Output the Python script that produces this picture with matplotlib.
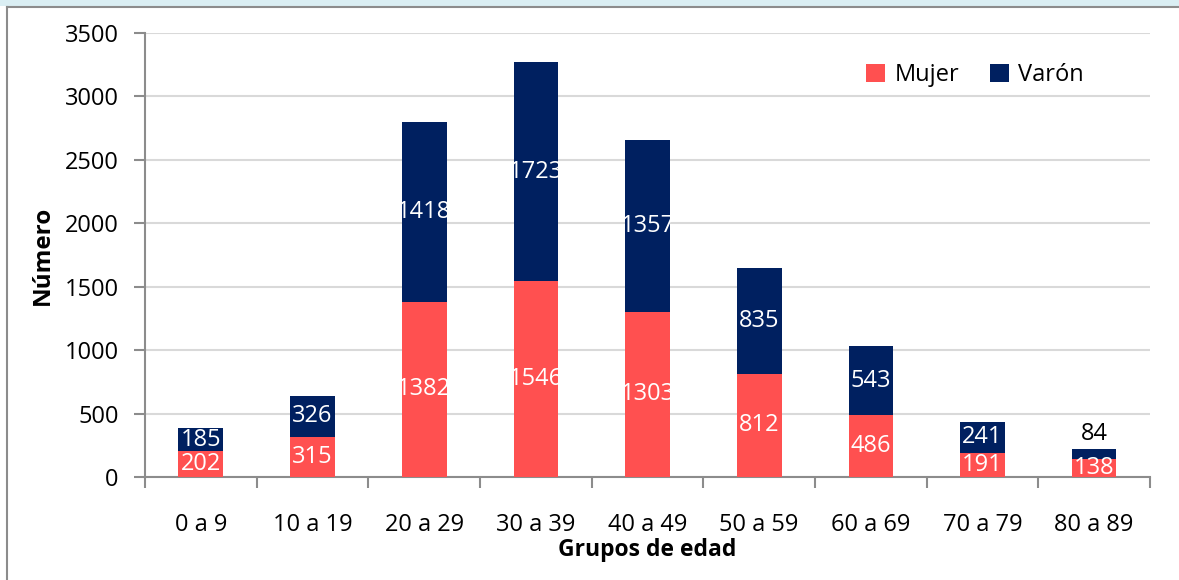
import matplotlib.pyplot as plt
import numpy as np
from matplotlib.patches import Rectangle
from matplotlib.lines import Line2D

# Data
grupos = ['0 a 9', '10 a 19', '20 a 29', '30 a 39', '40 a 49',
          '50 a 59', '60 a 69', '70 a 79', '80 a 89']
mujer = [202, 315, 1382, 1546, 1303, 812, 486, 191, 138]
varon = [185, 326, 1418, 1723, 1357, 835, 543, 241, 84]

RED = '#FF5050'
NAVY = '#002060'

plt.rcParams['font.family'] = ['Open Sans', 'DejaVu Sans']

fig = plt.figure(figsize=(11.79, 5.80), dpi=100)
W, H = 1179, 580

# outer frame: light blue strip on top, grey lines top & left
fig.patches.append(Rectangle((0, 1 - 6 / H), 1, 6 / H, transform=fig.transFigure,
                             facecolor='#DAEEF3', edgecolor='none'))
fig.lines.append(Line2D([7 / W, 1], [1 - 7 / H, 1 - 7 / H], transform=fig.transFigure,
                        color='#8C8C8C', lw=1.5))
fig.lines.append(Line2D([7 / W, 7 / W], [0, 1 - 7 / H], transform=fig.transFigure,
                        color='#8C8C8C', lw=1.5))

ax = fig.add_axes([145 / W, 1 - 477 / H, (1150 - 145) / W, (477 - 33) / H])

x = np.arange(len(grupos))
width = 0.4
ax.bar(x, mujer, width, color=RED, label='Mujer', zorder=3)
ax.bar(x, varon, width, bottom=mujer, color=NAVY, label='Varón', zorder=3)

fs = 17
# Data labels centred in segments
for i in range(len(grupos)):
    ax.text(x[i], mujer[i] / 2, str(mujer[i]), ha='center', va='center',
            color='white', fontsize=fs, zorder=4)
    if varon[i] > 150:
        ax.text(x[i], mujer[i] + varon[i] / 2, str(varon[i]), ha='center', va='center',
                color='white', fontsize=fs, zorder=4)
    else:
        ax.text(x[i], mujer[i] + varon[i] + 120, str(varon[i]), ha='center', va='center',
                color='black', fontsize=fs, zorder=4)

ax.set_xlim(-0.5, len(grupos) - 0.5)
ax.set_ylim(0, 3500)
ax.set_yticks(np.arange(0, 3501, 500))
ax.yaxis.grid(True, color='#D9D9D9', lw=1.5, zorder=0)

ax.set_xticks(x)
ax.set_xticklabels(grupos)
ax.set_xticks(np.arange(-0.5, len(grupos), 1), minor=True)
ax.tick_params(axis='x', which='major', length=0, pad=26, labelsize=fs)
ax.tick_params(axis='x', which='minor', length=8, width=1.5, color='#8C8C8C', direction='out')
ax.tick_params(axis='y', length=8, width=1.5, color='#8C8C8C', pad=11, labelsize=fs)

for s in ['top', 'right']:
    ax.spines[s].set_visible(False)
for s in ['left', 'bottom']:
    ax.spines[s].set_color('#8C8C8C')
    ax.spines[s].set_linewidth(1.5)

ax.set_ylabel('Número', fontsize=17.5, fontweight='bold', labelpad=7)
ax.set_xlabel('Grupos de edad', fontsize=16.5, fontweight='bold', labelpad=1)

ax.legend(loc='center', bbox_to_anchor=(0.826, 0.905), frameon=False, ncol=2,
          fontsize=fs, handlelength=0.8, handleheight=0.8, columnspacing=1.3,
          handletextpad=0.4, borderpad=0)

fig.savefig('out.png', dpi=100)
